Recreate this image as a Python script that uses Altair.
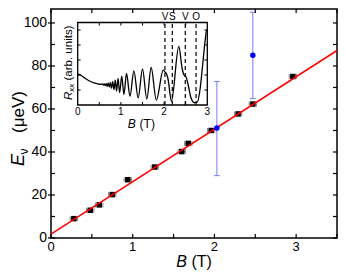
import altair as alt
import pandas as pd

# ---------------- data ----------------
black_B = [0.28, 0.48, 0.59, 0.75, 0.94, 1.27, 1.60, 1.68, 1.96, 2.29, 2.47, 2.96]
black_E = [9.0, 12.9, 15.4, 20.2, 27.1, 33.0, 40.2, 44.0, 50.0, 57.7, 62.3, 75.1]
black_Berr = 0.045

blue_B = [2.03, 2.47]
blue_E = [51.2, 85.0]
blue_lo = [29.0, 64.8]
blue_hi = [72.8, 105.0]

fit_B = [0.0, 3.5]
fit_E = [1.8, 87.2]

x_ticks = [0, 0.5, 1, 1.5, 2, 2.5, 3, 3.5]
x_labels = [0, 1, 2, 3]
y_ticks = [0, 10, 20, 30, 40, 50, 60, 70, 80, 90, 100]
y_labels = [0, 20, 40, 60, 80, 100]

inset_B = [0.00, 0.05, 0.10, 0.17, 0.25, 0.35, 0.45, 0.54,
           0.575, 0.595, 0.615, 0.637, 0.66, 0.682, 0.705, 0.73, 0.755, 0.782,
           0.81, 0.84, 0.87, 0.90, 0.935, 0.97, 1.02, 1.07, 1.13, 1.21, 1.30,
           1.40, 1.50, 1.60, 1.70, 1.82, 1.98, 2.02, 2.06, 2.09, 2.17, 2.34,
           2.42, 2.46, 2.51, 2.56, 2.62, 2.70, 2.77, 2.83, 2.89, 2.95, 2.985, 3.0]
inset_R = [2.05, 2.02, 1.93, 1.78, 1.63, 1.50, 1.42, 1.38,
           1.40, 1.33, 1.41, 1.30, 1.42, 1.25, 1.45, 1.19, 1.50, 1.12,
           1.56, 1.03, 1.65, 0.93, 1.77, 0.82, 1.92, 0.70, 2.10, 0.58, 2.28,
           0.47, 2.40, 0.40, 2.50, 0.33, 2.33, 2.20, 2.05, 1.75, 0.25, 3.90,
           2.40, 2.00, 1.85, 1.30, 0.50, 0.15, 0.20, 1.00, 2.60, 4.30, 5.00, 4.90]

vline_B = [2.02, 2.19, 2.49, 2.74]
vline_text = ["V", "S", "V", "O"]

inset_x_ticks = [0.5, 1, 1.5, 2, 2.5]
inset_x_labels = [0, 1, 2, 3]
inset_y_ticks = [1, 2, 3, 4, 5]

FONT = "Liberation Sans"
XMAX, YMAX = 3.5, 106.5
IXMAX, IYMAX = 3.0, 5.5
W, H = 286, 229

xs = alt.Scale(domain=[0, XMAX], nice=False, zero=False)
ys = alt.Scale(domain=[0, YMAX], nice=False, zero=False)
ixs = alt.Scale(domain=[0, IXMAX], range=[26.7, 156.3], nice=False, zero=False)
iys = alt.Scale(domain=[0, IYMAX], range=[96, 13.5], nice=False, zero=False)

df_black = pd.DataFrame({"B": black_B, "E": black_E})
df_blue = pd.DataFrame({"B": blue_B, "E": blue_E, "lo": blue_lo, "hi": blue_hi})
df_fit = pd.DataFrame({"B": fit_B, "E": fit_E})
df_inset = pd.DataFrame({"B": inset_B, "R": inset_R})
df_vl = pd.DataFrame({"B": vline_B, "lab": vline_text})

grey = "#8a8a8a"


def X(f, s):
    return alt.X(f, scale=s, axis=None)


def Y(f, s):
    return alt.Y(f, scale=s, axis=None)


# ---------------- main plot ----------------
black_err = alt.Chart(df_black).transform_calculate(
    lo=f"datum.B - {black_Berr}", hi=f"datum.B + {black_Berr}"
).mark_rule(color=grey, strokeWidth=1).encode(
    x=X("lo:Q", xs), x2="hi:Q", y=Y("E:Q", ys))

black_caps = alt.Chart(df_black).transform_calculate(
    lo=f"datum.B - {black_Berr}", hi=f"datum.B + {black_Berr}"
).transform_fold(["lo", "hi"], as_=["k", "v"]).mark_tick(
    orient="vertical", size=5, thickness=1, color=grey, opacity=1).encode(
    x=X("v:Q", xs), y=Y("E:Q", ys))

black_pts = alt.Chart(df_black).mark_square(size=30, color="black", opacity=1).encode(
    x=X("B:Q", xs), y=Y("E:Q", ys))

fit_line = alt.Chart(df_fit).mark_line(color="#ff0000", strokeWidth=1.5).encode(
    x=X("B:Q", xs), y=Y("E:Q", ys))

blue_err = alt.Chart(df_blue).mark_rule(color="#7a7aff", strokeWidth=1).encode(
    x=X("B:Q", xs), y=Y("lo:Q", ys), y2="hi:Q")

blue_caps = alt.Chart(df_blue).transform_fold(["lo", "hi"], as_=["k", "v"]).mark_tick(
    orient="horizontal", size=6, thickness=1, color="#7a7aff", opacity=1).encode(
    x=X("B:Q", xs), y=Y("v:Q", ys))

blue_pts = alt.Chart(df_blue).mark_circle(size=30, color="#0000ff", opacity=1).encode(
    x=X("B:Q", xs), y=Y("E:Q", ys))

df_xt = pd.DataFrame({"t": x_ticks})
df_yt = pd.DataFrame({"t": y_ticks})
df_ym = pd.DataFrame({"t": y_labels})
df_xl = pd.DataFrame({"t": x_labels})
tk = dict(color="black", strokeWidth=1.2)

t_bottom = alt.Chart(df_xt).mark_rule(**tk).encode(
    x=X("t:Q", xs), y=alt.YDatum(0, scale=ys, axis=None), y2=alt.datum(1.9))
t_top = alt.Chart(df_xt).mark_rule(**tk).encode(
    x=X("t:Q", xs), y=alt.YDatum(YMAX, scale=ys, axis=None), y2=alt.datum(YMAX - 1.9))
t_left = alt.Chart(df_yt).mark_rule(**tk).encode(
    y=Y("t:Q", ys), x=alt.XDatum(0, scale=xs, axis=None), x2=alt.datum(0.049))
t_left_out = alt.Chart(df_ym).mark_rule(**tk).encode(
    y=Y("t:Q", ys), x=alt.XDatum(0, scale=xs, axis=None), x2=alt.datum(-0.037))
t_right = alt.Chart(df_yt).mark_rule(**tk).encode(
    y=Y("t:Q", ys), x=alt.XDatum(XMAX, scale=xs, axis=None), x2=alt.datum(XMAX - 0.049))

x_lab = alt.Chart(df_xl).mark_text(fontSize=13, font=FONT, baseline="top",
                                   color="black").encode(
    x=X("t:Q", xs), y=alt.value(H + 3), text=alt.Text("t:Q", format="d"))
y_lab = alt.Chart(df_ym).mark_text(fontSize=14, font=FONT, baseline="middle",
                                   align="right", color="black").encode(
    y=Y("t:Q", ys), x=alt.value(-4), text=alt.Text("t:Q", format="d"))


def label(txt, x, y, size, angle=0, italic=False, align="left"):
    return alt.Chart(alt.Data(values=[{}])).mark_text(
        text=txt, fontSize=size, font=FONT, fontStyle="italic" if italic else "normal",
        angle=angle, align=align, baseline="alphabetic", color="black").encode(
        x=alt.value(x), y=alt.value(y))


titles = [
    label("B", 136, 258, 16, italic=True, align="right"),
    label("(T)", 140.5, 258, 16),
    label("E", -27, 157, 18, angle=270, italic=True),
    label("ν", -23, 145.5, 12, angle=270),
    label("(μeV)", -27, 124, 17, angle=270),
]

main = alt.layer(black_err, black_caps, black_pts, fit_line, blue_err, blue_caps,
                 blue_pts, t_bottom, t_top, t_left, t_left_out, t_right, x_lab, y_lab,
                 *titles)

# ---------------- inset ----------------
frame = alt.Chart(alt.Data(values=[{}])).mark_rect(
    fill="white", stroke="black", strokeWidth=1.3).encode(
    x=alt.XDatum(0, scale=ixs, axis=None), x2=alt.datum(IXMAX),
    y=alt.YDatum(0, scale=iys, axis=None), y2=alt.datum(IYMAX))

curve = alt.Chart(df_inset).mark_line(color="black", strokeWidth=1.3,
                                      interpolate="monotone").encode(
    x=X("B:Q", ixs), y=Y("R:Q", iys))

vlines = alt.Chart(df_vl).mark_rule(color="black", strokeWidth=1.2,
                                     strokeDash=[4, 3]).encode(
    x=X("B:Q", ixs), y=alt.YDatum(0, scale=iys, axis=None), y2=alt.datum(IYMAX))

vtext = alt.Chart(df_vl).mark_text(fontSize=10, font=FONT, baseline="alphabetic",
                                   dy=-3, color="black").encode(
    x=X("B:Q", ixs), y=alt.YDatum(IYMAX, scale=iys, axis=None), text="lab:N")

df_ixt = pd.DataFrame({"t": inset_x_ticks})
df_iyt = pd.DataFrame({"t": inset_y_ticks})
df_ixl = pd.DataFrame({"t": inset_x_labels})
itk = dict(color="black", strokeWidth=1)
it_bottom = alt.Chart(df_ixt).mark_rule(**itk).encode(
    x=X("t:Q", ixs), y=alt.YDatum(0, scale=iys, axis=None), y2=alt.datum(0.2))
it_top = alt.Chart(df_ixt).mark_rule(**itk).encode(
    x=X("t:Q", ixs), y=alt.YDatum(IYMAX, scale=iys, axis=None), y2=alt.datum(IYMAX - 0.2))
it_left = alt.Chart(df_iyt).mark_rule(**itk).encode(
    y=Y("t:Q", iys), x=alt.XDatum(0, scale=ixs, axis=None), x2=alt.datum(0.068))
it_right = alt.Chart(df_iyt).mark_rule(**itk).encode(
    y=Y("t:Q", iys), x=alt.XDatum(IXMAX, scale=ixs, axis=None), x2=alt.datum(IXMAX - 0.068))

ix_lab = alt.Chart(df_ixl).mark_text(fontSize=10, font=FONT, baseline="top", dy=2,
                                     color="black").encode(
    x=X("t:Q", ixs), y=alt.YDatum(0, scale=iys, axis=None),
    text=alt.Text("t:Q", format="d"))

inset_titles = [
    label("B", 84.7, 118.5, 12, italic=True, align="right"),
    label("(T)", 88.6, 118.5, 12),
    label("R", 20.6, 91, 11.5, angle=270, italic=True),
    label("xx", 23.1, 82.7, 8, angle=270, italic=True),
    label("(arb. units)", 20.6, 71.5, 11.5, angle=270),
]

inset = alt.layer(frame, curve, vlines, vtext, it_bottom, it_top, it_left, it_right,
                  ix_lab, *inset_titles)

chart = alt.layer(main, inset).resolve_scale(
    x="independent", y="independent"
).properties(
    width=W, height=H,
    autosize=alt.AutoSizeParams(type="none"),
    padding={"left": 43, "top": 1, "right": 1, "bottom": 33},
    background="white",
).configure_view(stroke="black", strokeWidth=1.5)

chart.save("out.html", embed_options={"renderer": "svg", "actions": False})
